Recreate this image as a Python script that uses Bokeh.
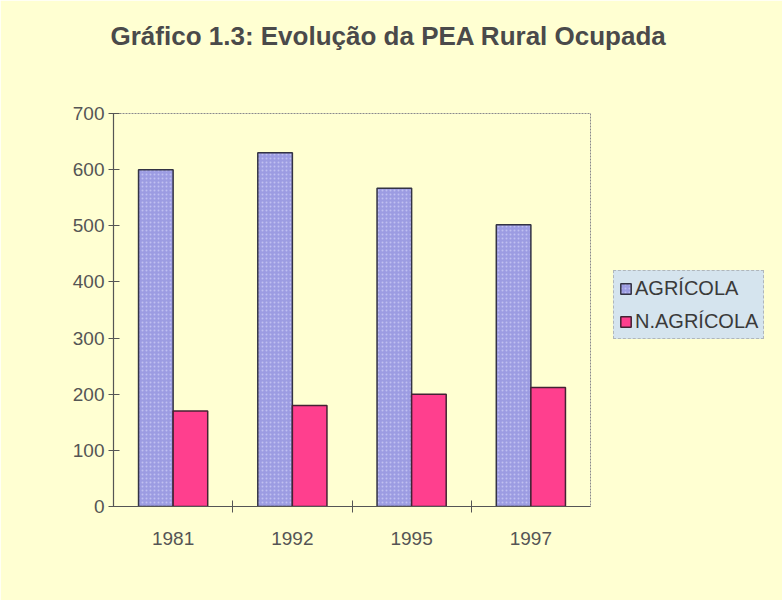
from bokeh.plotting import figure
from bokeh.models import FixedTicker, Legend, LegendItem, Range1d
from bokeh.embed import file_html
from bokeh.resources import INLINE

years = ["1981", "1992", "1995", "1997"]
agricola = [600, 630, 567, 502]
nao_agricola = [170, 180, 200, 212]
y_ticks = [0, 100, 200, 300, 400, 500, 600, 700]

idx = list(range(len(years)))
bar_w = 0.29
x_agr = [i - bar_w / 2 for i in idx]
x_nag = [i + bar_w / 2 for i in idx]

BG = "#FFFFD2"
p = figure(frame_width=477, frame_height=393, output_backend="svg", toolbar_location=None,
           x_range=Range1d(-0.5, len(years) - 0.5), y_range=Range1d(0, 700),
           min_border_left=113, min_border_right=176, min_border_top=113,
           min_border_bottom=94)
p.background_fill_color = BG
p.border_fill_color = BG
p.outline_line_color = "#8a8a8a"
p.outline_line_dash = "2 1"
p.grid.visible = False

p.title.text = "Gráfico 1.3: Evolução da PEA Rural Ocupada\n "
p.title.text_font = "Liberation Sans"
p.title.text_font_size = "26px"
p.title.text_font_style = "bold"
p.title.text_color = "#4a4a4a"
p.title.text_line_height = 1.5
p.title.align = "left"
p.title.offset = -3
p.title.standoff = 35

r1 = p.vbar(x=x_agr, top=agricola, width=bar_w, bottom=0,
            fill_color="#9C9CE2", line_color="#333344", line_width=1.5,
            hatch_pattern="dot", hatch_color="#C0C0F0", hatch_scale=4, hatch_weight=1)
r2 = p.vbar(x=x_nag, top=nao_agricola, width=bar_w, bottom=0,
            fill_color="#FF3F8E", line_color="#442233", line_width=1.5)

# axes
for ax in (p.xaxis, p.yaxis):
    ax.axis_line_color = "#555555"
    ax.axis_line_width = 1.2
    ax.major_label_text_font = "Liberation Sans"
    ax.major_label_text_font_size = "19px"
    ax.major_label_text_color = "#555555"
    ax.minor_tick_line_color = None

p.yaxis.ticker = FixedTicker(ticks=y_ticks)
p.yaxis.major_tick_in = 6
p.yaxis.major_tick_out = 5
p.yaxis.major_tick_line_color = "#555555"
p.yaxis.major_label_standoff = 4

p.xaxis.ticker = FixedTicker(ticks=idx, minor_ticks=[i + 0.5 for i in idx[:-1]])
p.xaxis.major_label_overrides = {i: y for i, y in zip(idx, years)}
p.xaxis.major_tick_line_color = None
p.xaxis.major_tick_in = 0
p.xaxis.major_tick_out = 0
p.xaxis.minor_tick_line_color = "#555555"
p.xaxis.minor_tick_in = 6
p.xaxis.minor_tick_out = 6
p.xaxis.major_label_standoff = 19

legend = Legend(items=[LegendItem(label="AGRÍCOLA", renderers=[r1]),
                       LegendItem(label="N.AGRÍCOLA", renderers=[r2])],
                location=(23, 167), orientation="vertical")
legend.label_text_font = "Liberation Sans"
legend.label_text_font_size = "20px"
legend.label_text_color = "#3a3a3a"
legend.background_fill_color = "#D5E4EE"
legend.background_fill_alpha = 1.0
legend.border_line_color = "#8a8a8a"
legend.border_line_dash = "2 1"
legend.glyph_width = 13
legend.glyph_height = 13
legend.label_standoff = 3
legend.padding = 5
legend.spacing = 9
legend.margin = 0
legend.label_height = 24
p.add_layout(legend, "right")

open("out.html", "w").write(file_html(p, INLINE))
